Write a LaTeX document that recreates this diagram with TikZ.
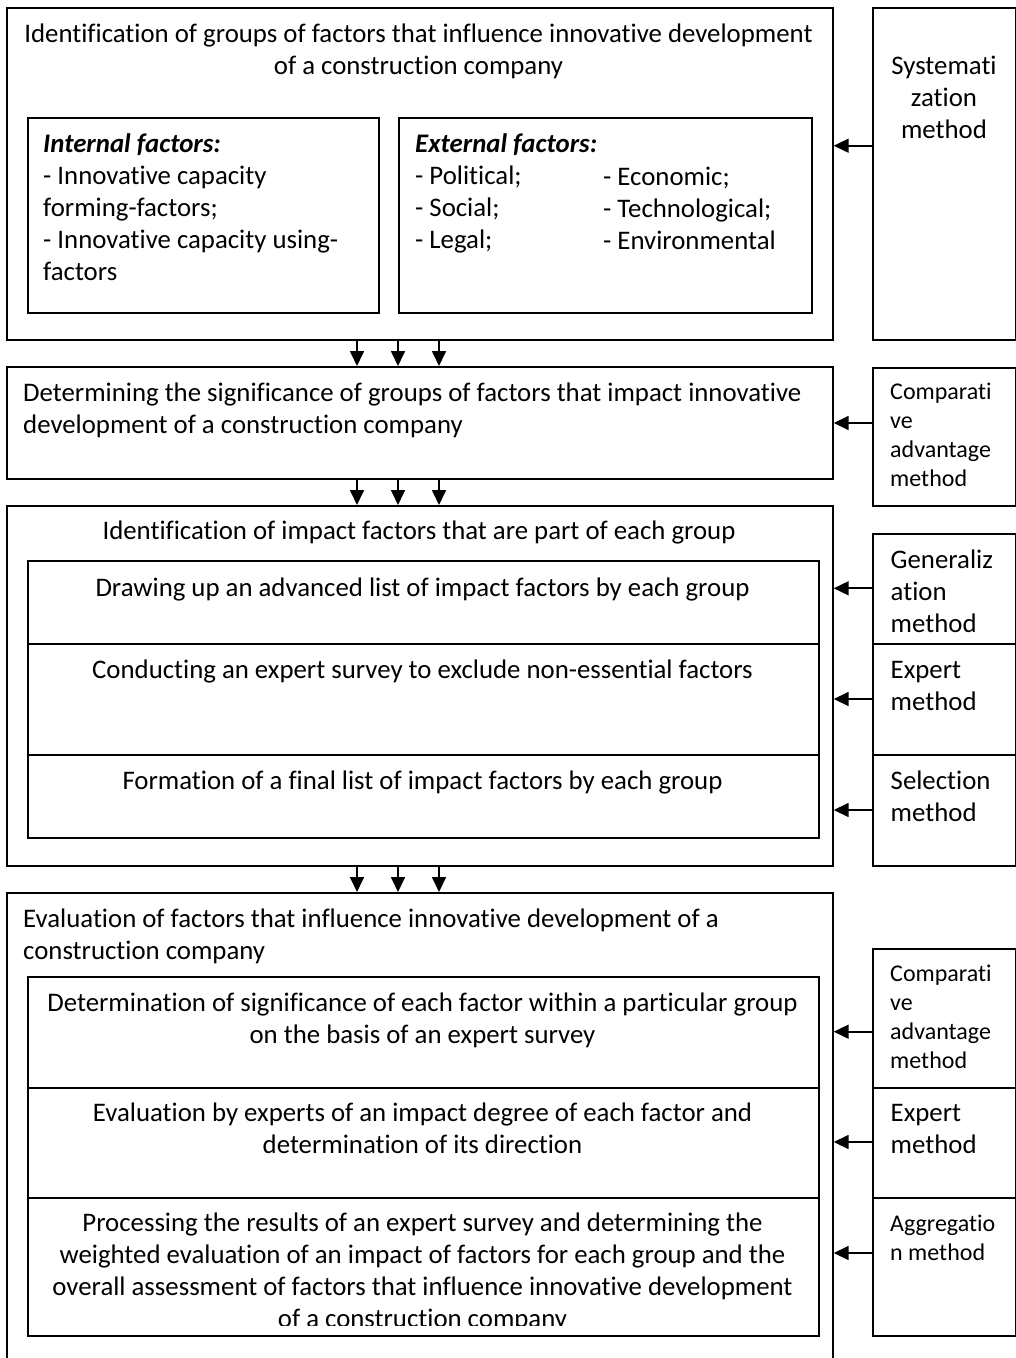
\documentclass[tikz,border=0pt]{standalone}
\usepackage{fontspec}
\setmainfont{Carlito}[Ligatures=CommonOff]
\usetikzlibrary{arrows.meta}
% struts that fix the height of the first line of every text block
\newcommand\fstrut{\rule{0pt}{24pt}}
\newcommand\sstrut{\rule{0pt}{22pt}}
\begin{document}
\begin{tikzpicture}[x=1pt,y=-1pt,
  outerbox/.style={draw,line width=1.7pt,rectangle,inner sep=0pt,anchor=north west},
  innerbox/.style={draw,line width=2.1pt,rectangle,inner sep=0pt,anchor=north west},
  txt/.style={inner sep=0pt,font=\fontsize{26.8}{32}\selectfont},
  smalltxt/.style={inner sep=0pt,font=\fontsize{24}{29}\selectfont},
  arr/.style={line width=1.7pt,-{Triangle[length=15pt,width=14pt]}}]
\useasboundingbox (0,0) rectangle (1016,1358);
\clip (0,0) rectangle (1016,1358);

% ---------- stage 1 ----------
\node[outerbox,minimum width=826pt,minimum height=332pt] (b1) at (6,7) {};
\node[innerbox,minimum width=351pt,minimum height=195pt] (int) at (27,117) {};
\node[innerbox,minimum width=413pt,minimum height=195pt] (ext) at (398,117) {};
\node[outerbox,minimum width=143pt,minimum height=332pt] (m1) at (872,7) {};

\node[txt,anchor=north,align=center] (t1) at (418.5,18.3)
  {\fstrut Identification of groups of factors that influence innovative development\\of a construction company};
\node[txt,anchor=north west,align=left] (tint) at (43,128.7)
  {\fstrut\textbf{\textit{Internal factors:}}\\- Innovative capacity\\forming-factors;\\- Innovative capacity using-\\factors};
\node[txt,anchor=north west,align=left] (text1) at (415,128.7)
  {\fstrut\textbf{\textit{External factors:}}\\- Political;\\- Social;\\- Legal;};
\node[txt,anchor=north west,align=left] (text2) at (603,161)
  {\fstrut- Economic;\\- Technological;\\- Environmental};
\node[txt,anchor=north,align=center] (tm1) at (944,50)
  {\fstrut Systemati\\zation\\method};

% ---------- stage 2 ----------
\node[outerbox,minimum width=826pt,minimum height=112pt] (b2) at (6,366) {};
\node[outerbox,minimum width=143pt,minimum height=138pt] (m2) at (872,367) {};
\node[txt,anchor=north west,align=left] (t2) at (23,377.7)
  {\fstrut Determining the significance of groups of factors that impact innovative\\development of a construction company};
\node[smalltxt,anchor=north west,align=left] (tm2) at (890,377.5)
  {\sstrut Comparati\\ve\\advantage\\method};

% ---------- stage 3 ----------
\node[outerbox,minimum width=826pt,minimum height=360pt] (b3) at (6,505) {};
\node[innerbox,minimum width=791pt,minimum height=83pt] (s3a) at (27,560) {};
\node[innerbox,minimum width=791pt,minimum height=111pt] (s3b) at (27,643) {};
\node[innerbox,minimum width=791pt,minimum height=83pt] (s3c) at (27,754) {};
\node[outerbox,minimum width=143pt,minimum height=110pt] (m3a) at (872,533) {};
\node[outerbox,minimum width=143pt,minimum height=111pt] (m3b) at (872,643) {};
\node[outerbox,minimum width=143pt,minimum height=111pt] (m3c) at (872,754) {};

\node[txt,anchor=north,align=center] (t3) at (419,515.5)
  {\fstrut Identification of impact factors that are part of each group};
\node[txt,anchor=north,align=center] (t3a) at (422.5,572)
  {\fstrut Drawing up an advanced list of impact factors by each group};
\node[txt,anchor=north,align=center] (t3b) at (422.5,654)
  {\fstrut Conducting an expert survey to exclude non-essential factors};
\node[txt,anchor=north,align=center] (t3c) at (422.5,765.3)
  {\fstrut Formation of a final list of impact factors by each group};
\node[txt,anchor=north west,align=left] (tm3a) at (890.5,544.3)
  {\fstrut Generaliz\\ation\\method};
\node[txt,anchor=north west,align=left] (tm3b) at (890.5,654)
  {\fstrut Expert\\method};
\node[txt,anchor=north west,align=left] (tm3c) at (890.5,765.3)
  {\fstrut Selection\\method};

% ---------- stage 4 ----------
\node[outerbox,minimum width=826pt,minimum height=490pt] (b4) at (6,892) {};
\node[innerbox,minimum width=791pt,minimum height=111pt] (s4a) at (27,976) {};
\node[innerbox,minimum width=791pt,minimum height=110pt] (s4b) at (27,1087) {};
\node[innerbox,minimum width=791pt,minimum height=138pt] (s4c) at (27,1197) {};
\node[outerbox,minimum width=143pt,minimum height=139pt] (m4a) at (872,948) {};
\node[outerbox,minimum width=143pt,minimum height=110pt] (m4b) at (872,1087) {};
\node[outerbox,minimum width=143pt,minimum height=138pt] (m4c) at (872,1197) {};

\node[txt,anchor=north west,align=left] (t4) at (23,903.3)
  {\fstrut Evaluation of factors that influence innovative development of a\\construction company};
\node[txt,anchor=north,align=center] (t4a) at (422.5,987.7)
  {\fstrut Determination of significance of each factor within a particular group\\on the basis of an expert survey};
\node[txt,anchor=north,align=center] (t4b) at (422.5,1097)
  {\fstrut Evaluation by experts of an impact degree of each factor and\\determination of its direction};
\begin{scope}
  \clip (27,1197) rectangle (818,1325.5);
  \node[txt,anchor=north,align=center] (t4c) at (422.5,1207.7)
    {\fstrut Processing the results of an expert survey and determining the\\weighted evaluation of an impact of factors for each group and the\\overall assessment of factors that influence innovative development\\of a construction company};
\end{scope}
\node[smalltxt,anchor=north west,align=left] (tm4a) at (890,959.7)
  {\sstrut Comparati\\ve\\advantage\\method};
\node[txt,anchor=north west,align=left] (tm4b) at (890.5,1097)
  {\fstrut Expert\\method};
\node[smalltxt,anchor=north west,align=left] (tm4c) at (890,1209.7)
  {\sstrut Aggregatio\\n method};

% ---------- connectors ----------
\coordinate (c1) at (357,0);
\coordinate (c2) at (398,0);
\coordinate (c3) at (439,0);
\foreach \u/\v in {b1/b2,b2/b3,b3/b4}
  \foreach \c in {c1,c2,c3}
    \draw[arr] (\u.south -| \c) -- (\v.north -| \c);

\coordinate (y1) at (0,145.7);
\coordinate (y2) at (0,423);
\coordinate (y3a) at (0,588.3);
\coordinate (y3b) at (0,699);
\coordinate (y3c) at (0,810);
\coordinate (y4a) at (0,1031.7);
\coordinate (y4b) at (0,1142);
\coordinate (y4c) at (0,1253);
\draw[arr] (m1.west |- y1) -- (b1.east |- y1);
\draw[arr] (m2.west |- y2) -- (b2.east |- y2);
\draw[arr] (m3a.west |- y3a) -- (b3.east |- y3a);
\draw[arr] (m3b.west |- y3b) -- (b3.east |- y3b);
\draw[arr] (m3c.west |- y3c) -- (b3.east |- y3c);
\draw[arr] (m4a.west |- y4a) -- (b4.east |- y4a);
\draw[arr] (m4b.west |- y4b) -- (b4.east |- y4b);
\draw[arr] (m4c.west |- y4c) -- (b4.east |- y4c);
\end{tikzpicture}
\end{document}
